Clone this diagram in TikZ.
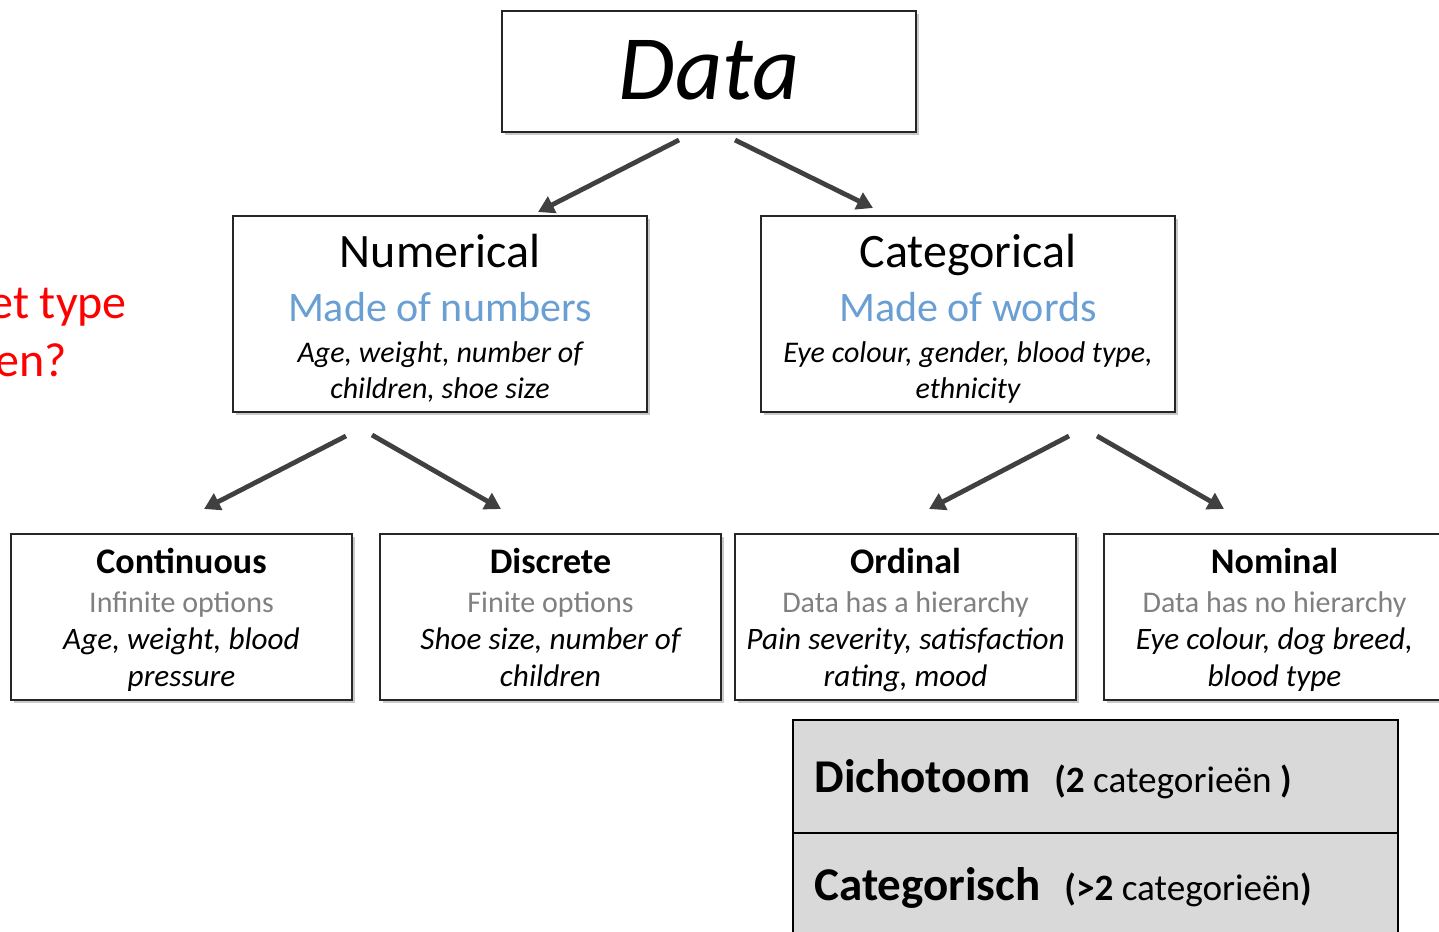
\documentclass[tikz,border=0pt]{standalone}
\usepackage{fontspec}
\setmainfont{Carlito}
\usetikzlibrary{shadows,arrows.meta}
\definecolor{arrowgray}{HTML}{404040}
\definecolor{madeblue}{HTML}{6A9FD3}
\definecolor{optgray}{HTML}{808080}
\definecolor{boxgray}{HTML}{D9D9D9}
\definecolor{qred}{HTML}{FF0000}
\begin{document}
\begin{tikzpicture}[x=0.5pt,y=-0.5pt,
  box/.style={draw=black!85, line width=0.7pt, fill=white, inner sep=0pt,
    drop shadow={shadow xshift=1.3pt, shadow yshift=-1.3pt, opacity=0.3, fill=black!70}},
  conn/.style={draw=arrowgray, line width=2.4pt, -{Triangle[length=8pt,width=9pt]}},
  graybox/.style={draw=black, line width=1pt, fill=boxgray, inner sep=0pt},
  ttl/.style={anchor=base, font=\fontsize{24}{28}\selectfont},
  sub/.style={anchor=base, font=\fontsize{21}{25}\selectfont, text=madeblue},
  exa/.style={anchor=base, font=\fontsize{15}{18}\selectfont\itshape},
  bttl/.style={anchor=base, font=\fontsize{18}{22}\selectfont\bfseries},
  bsub/.style={anchor=base, font=\fontsize{15}{18}\selectfont, text=optgray},
  bexa/.style={anchor=base, font=\fontsize{15.6}{19}\selectfont\itshape},
  red/.style={anchor=base west, font=\fontsize{24}{28}\selectfont, text=qred, inner sep=0pt}
]
\useasboundingbox (0,0) rectangle (1439,931);
\clip (0,0) rectangle (1439,931);

% question text (clipped on the left, as in the reference)
\node[red] (q1) at (-11,318) {et type};
\node[red] (q2) at (-5,376) {en?};

% top box
\node[box, minimum width=207pt, minimum height=60.5pt, line width=0.6pt] (data) at (709,71.5) {};
\node[anchor=base, font=\fontsize{46}{50}\selectfont\itshape] (dataT) at (709,100) {Data};

% second level
\node[box, minimum width=207pt, minimum height=98pt] (num) at (440,314) {};
\node[ttl] (numT) at (440,267) {Numerical};
\node[sub] (numS) at (440,321) {Made of numbers};
\node[exa] (numE1) at (440,362) {Age, weight, number of};
\node[exa] (numE2) at (440,398) {children, shoe size};

\node[box, minimum width=207pt, minimum height=98pt] (cat) at (968,314) {};
\node[ttl] (catT) at (968,267) {Categorical};
\node[sub] (catS) at (968,321) {Made of words};
\node[exa] (catE1) at (968,362) {Eye colour, gender, blood type,};
\node[exa] (catE2) at (968,398) {ethnicity};

% third level
\node[box, minimum width=170.5pt, minimum height=83pt] (cont) at (181.5,617) {};
\node[bttl] (contT) at (181.5,573) {Continuous};
\node[bsub] (contS) at (181.5,612) {Infinite options};
\node[bexa] (contE1) at (181.5,649) {Age, weight, blood};
\node[bexa] (contE2) at (181.5,686) {pressure};

\node[box, minimum width=170.5pt, minimum height=83pt] (disc) at (550.5,617) {};
\node[bttl] (discT) at (550.5,573) {Discrete};
\node[bsub] (discS) at (550.5,612) {Finite options};
\node[bexa] (discE1) at (550.5,649) {Shoe size, number of};
\node[bexa] (discE2) at (550.5,686) {children};

\node[box, minimum width=170.5pt, minimum height=83pt] (ord) at (905.5,617) {};
\node[bttl] (ordT) at (905.5,573) {Ordinal};
\node[bsub] (ordS) at (905.5,612) {Data has a hierarchy};
\node[bexa] (ordE1) at (905.5,649) {Pain severity, satisfaction};
\node[bexa] (ordE2) at (905.5,686) {rating, mood};

\node[box, minimum width=170.5pt, minimum height=83pt] (nom) at (1274.5,617) {};
\node[bttl] (nomT) at (1274.5,573) {Nominal};
\node[bsub] (nomS) at (1274.5,612) {Data has no hierarchy};
\node[bexa] (nomE1) at (1274.5,649) {Eye colour, dog breed,};
\node[bexa] (nomE2) at (1274.5,686) {blood type};

% gray table
\node[graybox, minimum width=302.5pt, minimum height=56.5pt] (dich) at (1095.5,776.5) {};
\node[graybox, minimum width=302.5pt, minimum height=60pt] (catg) at (1095.5,893) {};
\node[anchor=base west, inner sep=0pt, font=\fontsize{18.6}{22}\selectfont] (dichT) at (814,792)
  {{\fontsize{23.5}{27}\selectfont\bfseries Dichotoom}\hspace{12pt}{\bfseries(2} categorieën {\bfseries)}};
\node[anchor=base west, inner sep=0pt, font=\fontsize{18.6}{22}\selectfont] (catgT) at (814,900)
  {{\fontsize{23.5}{27}\selectfont\bfseries Categorisch}\hspace{12pt}{\bfseries(>2} categorieën{\bfseries)}};

% arrow coordinates
\coordinate (a1s) at (679,140); \coordinate (a1e) at (538,212);
\coordinate (a2s) at (735,140); \coordinate (a2e) at (873,208);
\coordinate (a3s) at (346,436); \coordinate (a3e) at (204,509);
\coordinate (a4s) at (372,435); \coordinate (a4e) at (501,509);
\coordinate (a5s) at (1069,436); \coordinate (a5e) at (929,509);
\coordinate (a6s) at (1097,436); \coordinate (a6e) at (1224,509);
\draw[conn] (a1s) -- (a1e);
\draw[conn] (a2s) -- (a2e);
\draw[conn] (a3s) -- (a3e);
\draw[conn] (a4s) -- (a4e);
\draw[conn] (a5s) -- (a5e);
\draw[conn] (a6s) -- (a6e);
\end{tikzpicture}
\end{document}
